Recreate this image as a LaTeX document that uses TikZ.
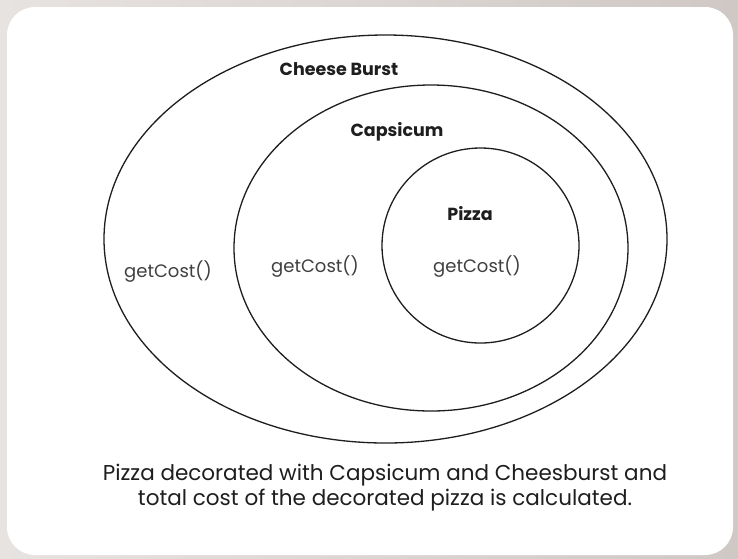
\documentclass[tikz,border=0pt]{standalone}
\usepackage{fontspec}
\setmainfont{Poppins}
\usetikzlibrary{shapes.geometric}
\definecolor{bgl}{HTML}{E7E3E1}
\definecolor{bgr}{HTML}{CFC8C5}
\definecolor{ink}{HTML}{1E1E1E}
\tikzset{
  ring/.style={draw=ink, line width=1.3pt, ellipse, inner sep=0pt},
  title/.style={font=\fontsize{17.5}{20}\selectfont\bfseries, text=ink, inner sep=0pt},
  method/.style={font=\fontsize{18}{21}\selectfont, text=ink!85, inner sep=0pt},
  caption/.style={font=\fontsize{21.5}{25}\selectfont, text=ink, align=center, inner sep=0pt}
}
\begin{document}
\begin{tikzpicture}[x=1pt,y=-1pt]
\useasboundingbox (0,0) rectangle (738,558);
\shade[left color=bgl, right color=bgr] (0,0) rectangle (738,558);
\fill[white, rounded corners=28pt] (7,7) rectangle (733,555);
\node[ring, minimum width=563pt, minimum height=408pt] (cb) at (385.5,239) {};
\node[ring, minimum width=394pt, minimum height=326pt] (cap) at (431,248) {};
\node[ring, minimum width=197pt, minimum height=195pt] (pz) at (480.5,245.5) {};
\node[title] (tcb) at (339,69) {Cheese Burst};
\node[title] (tcap) at (397,132) {Capsicum};
\node[title] (tpz) at (470,214) {Pizza};
\node[method] (g1) at (168,272) {getCost()};
\node[method] (g2) at (315,267) {getCost()};
\node[method] (g3) at (477,267) {getCost()};
\node[caption] (cap1) at (385,488) {Pizza decorated with Capsicum and Cheesburst and\\total cost of the decorated pizza is calculated.};
\end{tikzpicture}
\end{document}
